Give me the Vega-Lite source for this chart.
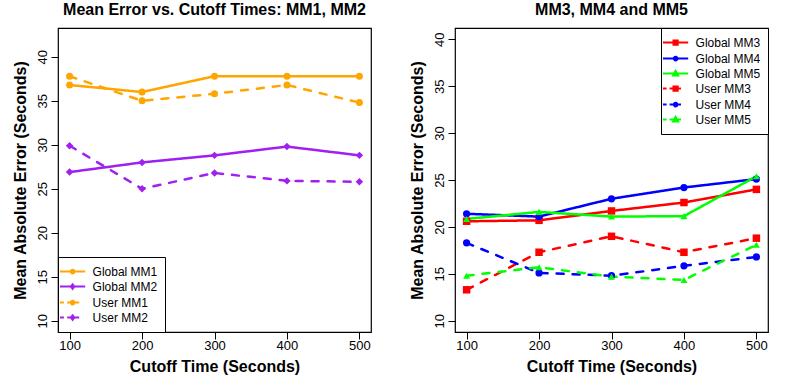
{
  "$schema": "https://vega.github.io/schema/vega-lite/v6.json",
  "background": "white",
  "padding": {"left": 11, "top": 0, "right": 0, "bottom": 0},
  "bounds": "flush",
  "spacing": 84,
  "resolve": {
    "scale": {"color": "independent", "shape": "independent", "size": "independent", "strokeDash": "independent", "x": "independent", "y": "independent"},
    "legend": {"color": "independent"}
  },
  "config": {
    "font": "Liberation Sans",
    "view": {"stroke": "black", "strokeWidth": 1.2},
    "axis": {"domain": false, "grid": false, "tickColor": "black", "tickSize": 7, "tickWidth": 1, "labelColor": "black", "labelFontSize": 13, "labelFont": "Liberation Sans", "titleFont": "Liberation Sans", "titleFontSize": 16, "titleFontWeight": "bold", "titleColor": "black"},
    "axisX": {"labelPadding": 0, "titlePadding": 6},
    "axisY": {"labelAngle": 270, "labelAlign": "center", "labelBaseline": "alphabetic", "labelPadding": 5, "titlePadding": 8},
    "title": {"font": "Liberation Sans", "fontSize": 16, "fontWeight": "bold", "color": "black", "anchor": "middle", "offset": 10},
    "legend": {"strokeColor": "black", "fillColor": "white", "padding": 7.6, "offset": 0, "rowPadding": 2, "symbolSize": 144, "labelFontSize": 12, "labelFont": "Liberation Sans", "labelColor": "black", "labelOffset": 13}
  },
  "datasets": {
    "left": [
      {"series": "Global MM1", "model": "MM1", "kind": "Global", "cutoff": 100, "error": 36.8},
      {"series": "Global MM1", "model": "MM1", "kind": "Global", "cutoff": 200, "error": 36.0},
      {"series": "Global MM1", "model": "MM1", "kind": "Global", "cutoff": 300, "error": 37.8},
      {"series": "Global MM1", "model": "MM1", "kind": "Global", "cutoff": 400, "error": 37.8},
      {"series": "Global MM1", "model": "MM1", "kind": "Global", "cutoff": 500, "error": 37.8},
      {"series": "Global MM2", "model": "MM2", "kind": "Global", "cutoff": 100, "error": 26.9},
      {"series": "Global MM2", "model": "MM2", "kind": "Global", "cutoff": 200, "error": 28.0},
      {"series": "Global MM2", "model": "MM2", "kind": "Global", "cutoff": 300, "error": 28.8},
      {"series": "Global MM2", "model": "MM2", "kind": "Global", "cutoff": 400, "error": 29.8},
      {"series": "Global MM2", "model": "MM2", "kind": "Global", "cutoff": 500, "error": 28.8},
      {"series": "User MM1", "model": "MM1", "kind": "User", "cutoff": 100, "error": 37.8},
      {"series": "User MM1", "model": "MM1", "kind": "User", "cutoff": 200, "error": 35.0},
      {"series": "User MM1", "model": "MM1", "kind": "User", "cutoff": 300, "error": 35.8},
      {"series": "User MM1", "model": "MM1", "kind": "User", "cutoff": 400, "error": 36.8},
      {"series": "User MM1", "model": "MM1", "kind": "User", "cutoff": 500, "error": 34.8},
      {"series": "User MM2", "model": "MM2", "kind": "User", "cutoff": 100, "error": 29.9},
      {"series": "User MM2", "model": "MM2", "kind": "User", "cutoff": 200, "error": 25.0},
      {"series": "User MM2", "model": "MM2", "kind": "User", "cutoff": 300, "error": 26.8},
      {"series": "User MM2", "model": "MM2", "kind": "User", "cutoff": 400, "error": 25.9},
      {"series": "User MM2", "model": "MM2", "kind": "User", "cutoff": 500, "error": 25.8}
    ],
    "right": [
      {"series": "Global MM3", "model": "MM3", "kind": "Global", "cutoff": 100, "error": 20.6},
      {"series": "Global MM3", "model": "MM3", "kind": "Global", "cutoff": 200, "error": 20.7},
      {"series": "Global MM3", "model": "MM3", "kind": "Global", "cutoff": 300, "error": 21.7},
      {"series": "Global MM3", "model": "MM3", "kind": "Global", "cutoff": 400, "error": 22.6},
      {"series": "Global MM3", "model": "MM3", "kind": "Global", "cutoff": 500, "error": 24.0},
      {"series": "Global MM4", "model": "MM4", "kind": "Global", "cutoff": 100, "error": 21.4},
      {"series": "Global MM4", "model": "MM4", "kind": "Global", "cutoff": 200, "error": 21.1},
      {"series": "Global MM4", "model": "MM4", "kind": "Global", "cutoff": 300, "error": 23.0},
      {"series": "Global MM4", "model": "MM4", "kind": "Global", "cutoff": 400, "error": 24.2},
      {"series": "Global MM4", "model": "MM4", "kind": "Global", "cutoff": 500, "error": 25.1},
      {"series": "Global MM5", "model": "MM5", "kind": "Global", "cutoff": 100, "error": 20.85},
      {"series": "Global MM5", "model": "MM5", "kind": "Global", "cutoff": 200, "error": 21.6},
      {"series": "Global MM5", "model": "MM5", "kind": "Global", "cutoff": 300, "error": 21.1},
      {"series": "Global MM5", "model": "MM5", "kind": "Global", "cutoff": 400, "error": 21.15},
      {"series": "Global MM5", "model": "MM5", "kind": "Global", "cutoff": 500, "error": 25.4},
      {"series": "User MM3", "model": "MM3", "kind": "User", "cutoff": 100, "error": 13.3},
      {"series": "User MM3", "model": "MM3", "kind": "User", "cutoff": 200, "error": 17.3},
      {"series": "User MM3", "model": "MM3", "kind": "User", "cutoff": 300, "error": 19.0},
      {"series": "User MM3", "model": "MM3", "kind": "User", "cutoff": 400, "error": 17.3},
      {"series": "User MM3", "model": "MM3", "kind": "User", "cutoff": 500, "error": 18.8},
      {"series": "User MM4", "model": "MM4", "kind": "User", "cutoff": 100, "error": 18.3},
      {"series": "User MM4", "model": "MM4", "kind": "User", "cutoff": 200, "error": 15.1},
      {"series": "User MM4", "model": "MM4", "kind": "User", "cutoff": 300, "error": 14.8},
      {"series": "User MM4", "model": "MM4", "kind": "User", "cutoff": 400, "error": 15.85},
      {"series": "User MM4", "model": "MM4", "kind": "User", "cutoff": 500, "error": 16.8},
      {"series": "User MM5", "model": "MM5", "kind": "User", "cutoff": 100, "error": 14.8},
      {"series": "User MM5", "model": "MM5", "kind": "User", "cutoff": 200, "error": 15.7},
      {"series": "User MM5", "model": "MM5", "kind": "User", "cutoff": 300, "error": 14.7},
      {"series": "User MM5", "model": "MM5", "kind": "User", "cutoff": 400, "error": 14.35},
      {"series": "User MM5", "model": "MM5", "kind": "User", "cutoff": 500, "error": 18.1}
    ]
  },
  "hconcat": [
    {
      "width": 313,
      "height": 304,
      "title": "Mean Error vs. Cutoff Times: MM1, MM2",
      "data": {"name": "left"},
      "encoding": {
        "x": {"field": "cutoff", "type": "quantitative", "scale": {"domain": [84, 516], "nice": false, "zero": false}, "axis": {"values": [100, 200, 300, 400, 500], "title": "Cutoff Time (Seconds)"}},
        "y": {"field": "error", "type": "quantitative", "scale": {"domain": [8.72, 43.28], "nice": false, "zero": false}, "axis": {"values": [10, 15, 20, 25, 30, 35, 40], "title": "Mean Absolute Error (Seconds)"}},
        "color": {"field": "series", "type": "nominal", "scale": {"domain": ["Global MM1", "Global MM2", "User MM1", "User MM2"], "range": ["#FFA500", "#A020F0", "#FFA500", "#A020F0"]},
          "legend": {"title": null, "orient": "bottom-left",
            "encode": {"symbols": {"update": {
              "shape": {"signal": "(indexof(datum.value, 'Global') >= 0 ? 'M-2.1,0H2.1' : 'M-2.1,0H-1.45M-0.9,0H1.1') + (indexof(datum.value, 'MM1') >= 0 ? 'M-0.3,0A0.3,0.3,0,1,0,0.3,0A0.3,0.3,0,1,0,-0.3,0Z' : 'M0,-0.38L0.3,0L0,0.38L-0.3,0Z')"},
              "fill": {"signal": "indexof(datum.value, 'MM1') >= 0 ? '#FFA500' : '#A020F0'"},
              "stroke": {"signal": "indexof(datum.value, 'MM1') >= 0 ? '#FFA500' : '#A020F0'"},
              "strokeWidth": {"value": 2},
              "strokeDash": {"value": [1, 0]},
              "opacity": {"value": 1},
              "fillOpacity": {"value": 1}
            }}}}
        }
      },
      "layer": [
        {
          "mark": {"type": "line", "strokeWidth": 2.5, "strokeCap": "round"},
          "encoding": {
            "strokeDash": {"field": "kind", "type": "nominal", "scale": {"domain": ["Global", "User"], "range": [[1, 0], [7, 9]]}, "legend": null}
          }
        },
        {
          "mark": {"type": "point", "filled": true, "opacity": 1},
          "encoding": {
            "shape": {"field": "model", "type": "nominal", "scale": {"domain": ["MM1", "MM2"], "range": ["circle", "diamond"]}, "legend": null},
            "size": {"field": "model", "type": "ordinal", "scale": {"domain": ["MM1", "MM2"], "range": [49, 56]}, "legend": null}
          }
        }
      ]
    },
    {
      "width": 313,
      "height": 304,
      "title": "MM3, MM4 and MM5",
      "data": {"name": "right"},
      "encoding": {
        "x": {"field": "cutoff", "type": "quantitative", "scale": {"domain": [84, 516], "nice": false, "zero": false}, "axis": {"values": [100, 200, 300, 400, 500], "title": "Cutoff Time (Seconds)"}},
        "y": {"field": "error", "type": "quantitative", "scale": {"domain": [8.8, 41.2], "nice": false, "zero": false}, "axis": {"values": [10, 15, 20, 25, 30, 35, 40], "title": "Mean Absolute Error (Seconds)"}},
        "color": {"field": "series", "type": "nominal", "scale": {"domain": ["Global MM3", "Global MM4", "Global MM5", "User MM3", "User MM4", "User MM5"], "range": ["#FF0000", "#0000FF", "#00FF00", "#FF0000", "#0000FF", "#00FF00"]},
          "legend": {"title": null, "orient": "top-right",
            "encode": {"symbols": {"update": {
              "shape": {"signal": "(indexof(datum.value, 'Global') >= 0 ? 'M-2.1,0H2.1' : 'M-2.1,0H-1.5M-1,0H0.9') + (indexof(datum.value, 'MM3') >= 0 ? 'M-0.35,-0.35H0.35V0.35H-0.35Z' : indexof(datum.value, 'MM4') >= 0 ? 'M-0.3,0A0.3,0.3,0,1,0,0.3,0A0.3,0.3,0,1,0,-0.3,0Z' : 'M0,-0.45L0.42,0.3H-0.42Z')"},
              "fill": {"signal": "indexof(datum.value, 'MM3') >= 0 ? '#FF0000' : indexof(datum.value, 'MM4') >= 0 ? '#0000FF' : '#00FF00'"},
              "stroke": {"signal": "indexof(datum.value, 'MM3') >= 0 ? '#FF0000' : indexof(datum.value, 'MM4') >= 0 ? '#0000FF' : '#00FF00'"},
              "strokeWidth": {"value": 2},
              "strokeDash": {"value": [1, 0]},
              "opacity": {"value": 1},
              "fillOpacity": {"value": 1}
            }}}}
        }
      },
      "layer": [
        {
          "mark": {"type": "line", "strokeWidth": 2.5, "strokeCap": "round"},
          "encoding": {
            "strokeDash": {"field": "kind", "type": "nominal", "scale": {"domain": ["Global", "User"], "range": [[1, 0], [7, 9]]}, "legend": null}
          }
        },
        {
          "mark": {"type": "point", "filled": true, "opacity": 1},
          "encoding": {
            "shape": {"field": "model", "type": "nominal", "scale": {"domain": ["MM3", "MM4", "MM5"], "range": ["square", "circle", "triangle-up"]}, "legend": null},
            "size": {"field": "model", "type": "ordinal", "scale": {"domain": ["MM3", "MM4", "MM5"], "range": [56, 49, 72]}, "legend": null}
          }
        }
      ]
    }
  ]
}
